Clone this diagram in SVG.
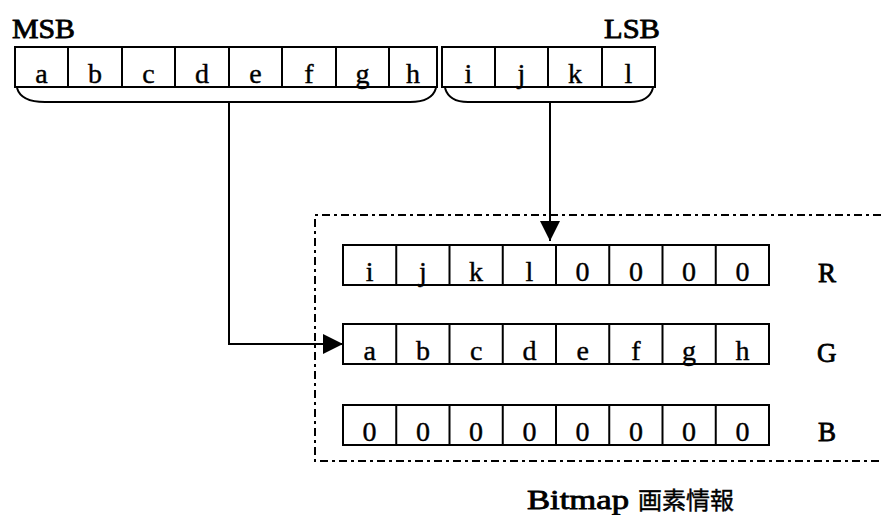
<svg xmlns="http://www.w3.org/2000/svg" width="881" height="515" viewBox="0 0 881 515">
<style>
.cell{fill:none;stroke:#000;stroke-width:2}
.t{font-family:"Liberation Serif","Noto Sans CJK JP",serif;font-size:28px;fill:#000;stroke:#000;stroke-width:0.4;text-anchor:middle}
.lbl{font-family:"Liberation Serif","Noto Sans CJK JP",serif;font-size:27px;fill:#000;stroke:#000;stroke-width:0.8}
.cjk{font-family:"Noto Sans CJK JP",sans-serif;font-size:24px;stroke-width:0.4}
.conn{fill:none;stroke:#000;stroke-width:2}
.frame{fill:none;stroke:#000;stroke-width:2;stroke-dasharray:8 4 3 4}
</style>
<defs>
<marker id="ah" markerUnits="userSpaceOnUse" markerWidth="22" markerHeight="22" refX="20" refY="10" orient="auto">
<path d="M0,0 L20,10 L0,20 Z" fill="#000"/>
</marker>
</defs>
<rect width="881" height="515" fill="#fff"/>

<g id="frame">
<path class="frame" d="M881,215 H315 V461 H881"/>
</g>

<g id="msb-label"><text class="lbl" x="12" y="38" textLength="63" lengthAdjust="spacingAndGlyphs">MSB</text></g>
<g id="lsb-label"><text class="lbl" x="604" y="38" textLength="56" lengthAdjust="spacingAndGlyphs">LSB</text></g>

<g id="upper-byte">
<rect class="cell" x="15" y="47" width="422" height="40"/>
<path class="cell" d="M68,47V87M122,47V87M175,47V87M229,47V87M282,47V87M336,47V87M389,47V87"/>
<text class="t" x="41.5" y="83">a</text><text class="t" x="95" y="83">b</text><text class="t" x="148.5" y="83">c</text><text class="t" x="202" y="83">d</text><text class="t" x="255.5" y="83">e</text><text class="t" x="309" y="83">f</text><text class="t" x="362.5" y="83">g</text><text class="t" x="413" y="83">h</text>
</g>

<g id="lower-nibble">
<rect class="cell" x="442" y="47" width="213" height="40"/>
<path class="cell" d="M495,47V87M548,47V87M602,47V87"/>
<text class="t" x="468.5" y="83">i</text><text class="t" x="521.5" y="83">j</text><text class="t" x="575" y="83">k</text><text class="t" x="628.5" y="83">l</text>
</g>

<g id="row-r">
<rect class="cell" x="343" y="245" width="426" height="40"/>
<path class="cell" d="M396.25,245V285M449.5,245V285M502.75,245V285M556,245V285M609.25,245V285M662.5,245V285M715.75,245V285"/>
<text class="t" x="369.6" y="281">i</text><text class="t" x="422.9" y="281">j</text><text class="t" x="476.1" y="281">k</text><text class="t" x="529.4" y="281">l</text><text class="t" x="582.6" y="281">0</text><text class="t" x="635.9" y="281">0</text><text class="t" x="689.1" y="281">0</text><text class="t" x="742.4" y="281">0</text>
<text class="lbl" x="818" y="282">R</text>
</g>

<g id="row-g">
<rect class="cell" x="343" y="324" width="426" height="40"/>
<path class="cell" d="M396.25,324V364M449.5,324V364M502.75,324V364M556,324V364M609.25,324V364M662.5,324V364M715.75,324V364"/>
<text class="t" x="369.6" y="360">a</text><text class="t" x="422.9" y="360">b</text><text class="t" x="476.1" y="360">c</text><text class="t" x="529.4" y="360">d</text><text class="t" x="582.6" y="360">e</text><text class="t" x="635.9" y="360">f</text><text class="t" x="689.1" y="360">g</text><text class="t" x="742.4" y="360">h</text>
<text class="lbl" x="817" y="362">G</text>
</g>

<g id="row-b">
<rect class="cell" x="343" y="405" width="426" height="40"/>
<path class="cell" d="M396.25,405V445M449.5,405V445M502.75,405V445M556,405V445M609.25,405V445M662.5,405V445M715.75,405V445"/>
<text class="t" x="369.6" y="441">0</text><text class="t" x="422.9" y="441">0</text><text class="t" x="476.1" y="441">0</text><text class="t" x="529.4" y="441">0</text><text class="t" x="582.6" y="441">0</text><text class="t" x="635.9" y="441">0</text><text class="t" x="689.1" y="441">0</text><text class="t" x="742.4" y="441">0</text>
<text class="lbl" x="818" y="441">B</text>
</g>

<g id="connectors">
<path class="conn" d="M17,88 Q21,102 45,102 H410 Q432,102 436,88"/>
<path class="conn" d="M445,88 Q449,102 468,102 H630 Q649,102 653,88"/>
<path class="conn" d="M229,102 V344 H343" marker-end="url(#ah)"/>
<path class="conn" d="M550,102 V241" marker-end="url(#ah)"/>
</g>

<g id="caption">
<text class="lbl" x="527" y="509" style="font-size:27px"><tspan textLength="102" lengthAdjust="spacingAndGlyphs">Bitmap</tspan><tspan class="cjk" x="638">画素情報</tspan></text>
</g>
</svg>
